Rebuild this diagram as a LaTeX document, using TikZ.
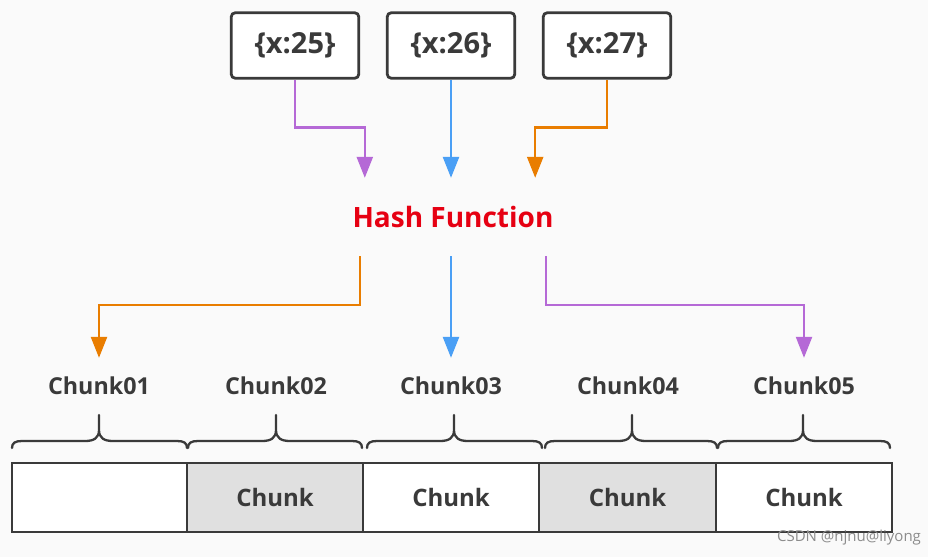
\documentclass[tikz,border=0pt]{standalone}
\usepackage{fontspec}
\setmainfont{Open Sans}
\usetikzlibrary{arrows.meta,calc}
\definecolor{bg}{HTML}{FAFAFA}
\definecolor{ink}{HTML}{3A3A3A}
\definecolor{cpurple}{HTML}{B569D6}
\definecolor{cblue}{HTML}{4A9FF5}
\definecolor{corange}{HTML}{E97D00}
\definecolor{hashred}{HTML}{E60012}
\definecolor{cellgray}{HTML}{E0E0E0}
\definecolor{wmark}{HTML}{8C8C8C}
\newcommand\chunkbrace[3]{%
  \draw[bracestyle] (#1,448) .. controls (#1,443) and (#1+3,441) .. (#1+10,441)
    -- (#2-14,441) .. controls (#2-5,441) and (#2,438) .. (#2,430) -- (#2,415)
    (#2,430) .. controls (#2,438) and (#2+5,441) .. (#2+14,441)
    -- (#3-10,441) .. controls (#3-3,441) and (#3,443) .. (#3,448);}
\begin{document}
\begin{tikzpicture}[x=1pt,y=-1pt,
  keybox/.style={draw=ink,line width=2.8pt,rounded corners=4pt,fill=white,
    minimum width=127.5pt,minimum height=65.5pt,inner sep=0pt,
    font=\fontsize{29}{34}\selectfont\bfseries,text=ink},
  hashnode/.style={minimum width=186pt,minimum height=78pt,inner sep=0pt,
    font=\fontsize{28}{33}\selectfont\bfseries,text=hashred},
  chunklabel/.style={minimum height=56pt,inner sep=0pt,
    font=\fontsize{23.3}{28}\selectfont\bfseries,text=ink},
  cell/.style={draw=ink,line width=2.8pt,minimum height=69pt,inner sep=0pt,
    font=\fontsize{24}{29}\selectfont\bfseries,text=ink},
  conn/.style={line width=2.4pt,-{Triangle[length=21pt,width=16pt]}},
  bracestyle/.style={draw=ink,line width=2.3pt,line cap=round,line join=round},
]
\fill[bg] (0,0) rectangle (928,557);
\fill[white] (928,0) rectangle (939,557);
\useasboundingbox (0,0) rectangle (939,557);

% key boxes
\node[keybox] (k25) at (295,45.5) {\{x:25\}};
\node[keybox] (k26) at (451,45.5) {\{x:26\}};
\node[keybox] (k27) at (607,45.5) {\{x:27\}};

% hash function
\node[hashnode] (hash) at (453,217) {\makebox[186pt]{Hash Function}};

% chunk labels
\node[chunklabel] (c1) at (99,386) {Chunk01};
\node[chunklabel] (c2) at (276,386) {Chunk02};
\node[chunklabel] (c3) at (451,386) {Chunk03};
\node[chunklabel] (c4) at (628,386) {Chunk04};
\node[chunklabel] (c5) at (804,386) {Chunk05};

% chunk cells
\node[cell,fill=white,minimum width=175pt] (r1) at (99.5,497.5) {};
\node[cell,fill=cellgray,minimum width=176pt] (r2) at (275,497.5) {Chunk};
\node[cell,fill=white,minimum width=176pt] (r3) at (451,497.5) {Chunk};
\node[cell,fill=cellgray,minimum width=177pt] (r4) at (627.5,497.5) {Chunk};
\node[cell,fill=white,minimum width=176pt] (r5) at (804,497.5) {Chunk};

% braces
\chunkbrace{12}{99}{187}
\chunkbrace{188}{276}{362}
\chunkbrace{367}{454}{542}
\chunkbrace{545}{632}{717}
\chunkbrace{718}{803}{890}

% arrows into hash
\draw[conn,cpurple] (k25.south) -- ++(0,48) -| ($(hash.north west)+(5,0)$);
\draw[conn,cblue] (k26.south) -- (k26.south |- hash.north);
\draw[conn,corange] (k27.south) -- ++(0,48) -| ($(hash.north east)+(-11,0)$);

% arrows out of hash
\draw[conn,corange] (hash.south west) -- ++(0,49) -| (c1.north);
\draw[conn,cblue] (c3.north |- hash.south) -- (c3.north);
\draw[conn,cpurple] (hash.south east) -- ++(0,49) -| (c5.north);

% watermark
\node[font=\fontsize{15}{18}\selectfont,text=wmark,inner sep=0pt] (wm) at (849,538) {CSDN @njnu@liyong};
\end{tikzpicture}
\end{document}
